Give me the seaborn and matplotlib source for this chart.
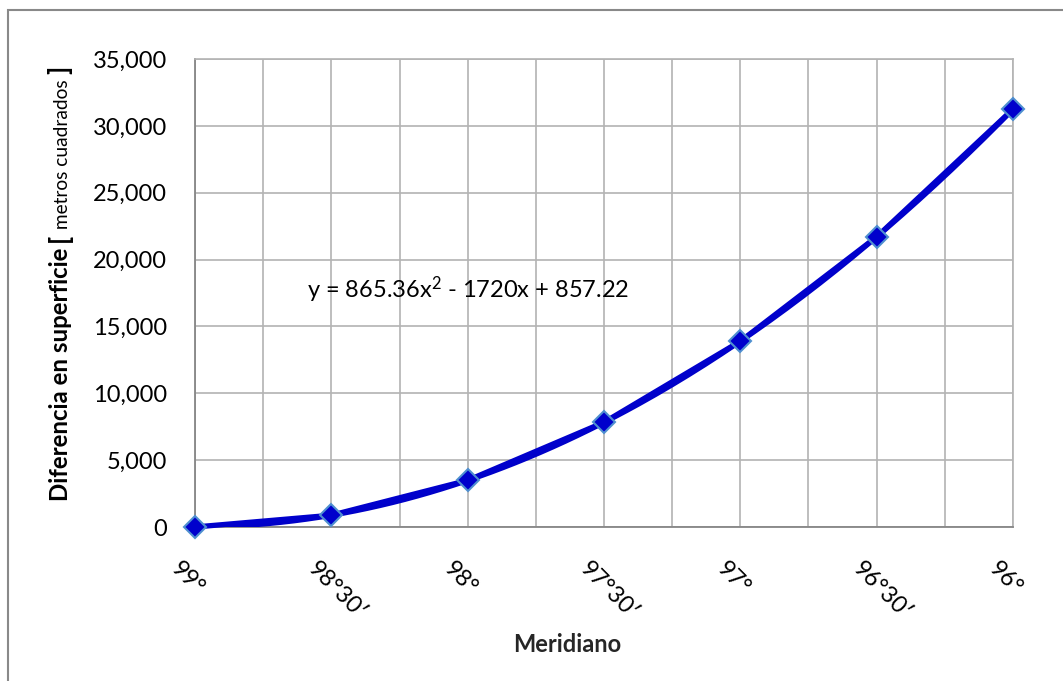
import numpy as np
import pandas as pd
import matplotlib
matplotlib.use("Agg")
import matplotlib.pyplot as plt
import matplotlib.transforms as mtransforms
import seaborn as sns
from matplotlib.patches import Rectangle

# ---- data ----
meridianos = ["99°", "98°30′", "98°", "97°30′", "97°", "96°30′", "96°"]
diferencia = [0, 880, 3490, 7830, 13890, 21700, 31250]
y_ticks = [0, 5000, 10000, 15000, 20000, 25000, 30000, 35000]

sns.set_theme(style="white")
plt.rcParams['font.family'] = ['Lato', 'DejaVu Sans']
plt.rcParams['mathtext.fontset'] = 'custom'
plt.rcParams['mathtext.rm'] = 'Lato'
plt.rcParams['mathtext.it'] = 'Lato'
plt.rcParams['mathtext.default'] = 'rm'

df = pd.DataFrame({"pos": np.arange(len(meridianos)), "meridiano": meridianos, "dif": diferencia})

fig = plt.figure(figsize=(10.63, 6.81), dpi=100)
ax = fig.add_axes([195/1063, 1-527/681, (1013-195)/1063, (527-59)/681])

# trend line (polynomial order 2 fitted over x = 1..n, like Excel)
xs = df["pos"].values + 1
coef = np.polyfit(xs, df["dif"].values, 2)
xx = np.linspace(xs.min(), xs.max(), 200)
trend = pd.DataFrame({"pos": xx - 1, "dif": np.polyval(coef, xx)})
sns.lineplot(data=trend, x="pos", y="dif", ax=ax, color="#0000C8", lw=3.8, zorder=3)

sns.lineplot(data=df, x="pos", y="dif", ax=ax, color="#0000CC", lw=3.8,
             marker="D", markersize=11, markerfacecolor="#0000CC",
             markeredgecolor="#4F8FD0", markeredgewidth=1.5, zorder=4, clip_on=False)

ax.set_xlim(0, len(meridianos) - 1)
ax.set_ylim(0, 35000)
ax.set_yticks(y_ticks)
ax.set_yticklabels([f"{v:,}" for v in y_ticks], fontsize=17, color="black")
ax.set_xticks(df["pos"])
ax.set_xticks(np.arange(0.5, len(meridianos) - 1, 1.0), minor=True)
ax.set_xticklabels(meridianos, fontsize=17, rotation=-45, ha="left", va="top",
                   rotation_mode="anchor", color="black")
ax.tick_params(axis="both", which="both", length=0)
ax.tick_params(axis="y", pad=20)
ax.tick_params(axis="x", pad=22)
offset = mtransforms.ScaledTranslation(-13/100, 0, fig.dpi_scale_trans)
for lbl in ax.get_xticklabels():
    lbl.set_transform(lbl.get_transform() + offset)

ax.grid(True, which="major", axis="both", color="#B3B3B3", lw=1.2)
ax.grid(True, which="minor", axis="x", color="#B3B3B3", lw=1.2)
ax.set_axisbelow(True)
for s in ["top", "right"]:
    ax.spines[s].set_color("#B3B3B3")
    ax.spines[s].set_linewidth(1.2)
for s in ["left", "bottom"]:
    ax.spines[s].set_color("#868686")
    ax.spines[s].set_linewidth(1.3)

ax.set_xlabel("")
ax.set_ylabel("")
fig.text(567/1063, 1-645/681, "Meridiano", fontsize=17, fontweight="bold", ha="center", va="center")

# equation text
ax.text(0.137, 0.508, r"y = 865.36x$^{2}$ - 1720x + 857.22", transform=ax.transAxes,
        fontsize=17, ha="left", va="center", color="black")

# y label with mixed styles, built bottom-up along a common baseline
fig.canvas.draw()
renderer = fig.canvas.get_renderer()
x_base = 68/1063
y_cur = 1 - 501/681
parts = [("Diferencia en superficie ", dict(fontsize=17.3, fontweight="bold")),
         ("[", dict(fontsize=19, fontweight="bold")),
         (" metros cuadrados ", dict(fontsize=13.8, fontweight="normal")),
         ("]", dict(fontsize=19, fontweight="bold"))]
for txt, kw in parts:
    t = fig.text(x_base, y_cur, txt, rotation=90, ha="left", va="baseline",
                 rotation_mode="anchor", color="black", **kw)
    bb = t.get_window_extent(renderer)
    y_cur = bb.y1 / fig.bbox.height

# outer border
fig.patches.append(Rectangle((8/1063, -0.05), 1.2, 1 - 10/681 + 0.05, transform=fig.transFigure,
                             fill=False, edgecolor="#898989", lw=1.5))

fig.savefig("out.png", dpi=100, facecolor="white")
